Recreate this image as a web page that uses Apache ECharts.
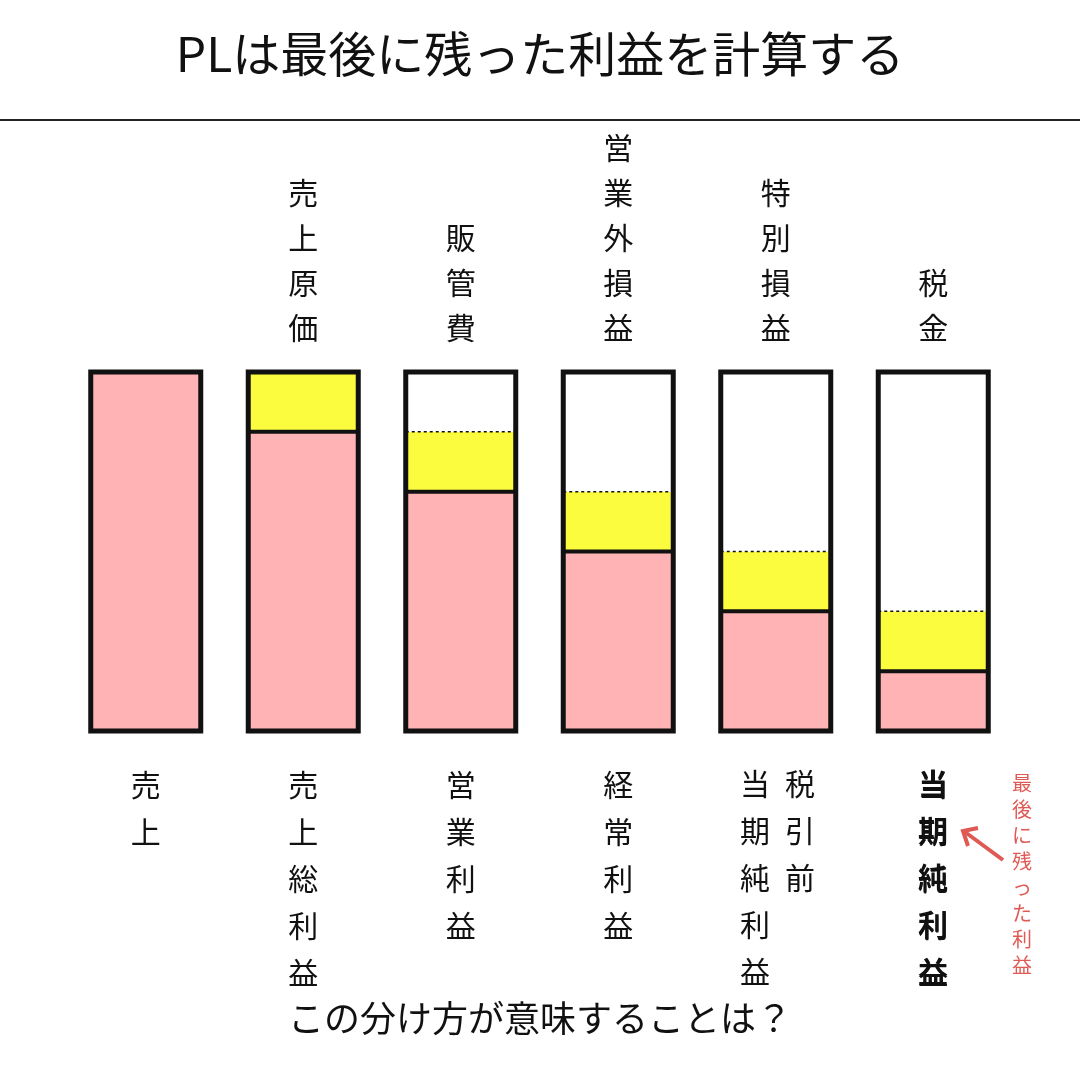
<!DOCTYPE html>
<html>
<head>
<meta charset="utf-8">
<script src="https://cdn.jsdelivr.net/npm/echarts@6/dist/echarts.min.js"></script>
<style>
html,body{margin:0;padding:0;background:#fff;}
#main{width:1080px;height:1080px;}
</style>
</head>
<body>
<div id="main"></div>
<script>
// data
var topLabels = ['', '売上原価', '販管費', '営業外損益', '特別損益', '税金'];
var bottomLabels = ['売上', '売上総利益', '営業利益', '経常利益', '', '当期純利益'];
var pinkVals = [6, 5, 4, 3, 2, 1];
var yellowVals = [0, 1, 1, 1, 1, 1];
var whiteVals = [0, 0, 1, 2, 3, 4];

var font = '"Noto Sans CJK JP", sans-serif';
var myChart = echarts.init(document.getElementById('main'));

function vert(s) { return s.split('').join('\n'); }

var seriesData = pinkVals.map(function (p, i) {
    return [i, p, yellowVals[i], whiteVals[i]];
});

var option = {
    animation: false,
    backgroundColor: '#fff',
    grid: { left: 67, right: 68, top: 372, height: 359 },
    xAxis: [
        {
            type: 'category', data: bottomLabels, position: 'bottom',
            axisLine: { show: false }, axisTick: { show: false },
            axisLabel: {
                margin: 30, fontFamily: font, fontSize: 30, lineHeight: 47, color: '#111',
                verticalAlign: 'top',
                formatter: function (v, i) { return vert(v); },
                rich: {}
            }
        },
        {
            type: 'category', data: topLabels, position: 'top',
            axisLine: { show: false }, axisTick: { show: false },
            axisLabel: {
                margin: 22, fontFamily: font, fontSize: 30, lineHeight: 45, color: '#111',
                formatter: function (v) { return vert(v); }
            }
        }
    ],
    yAxis: { type: 'value', min: 0, max: 6, show: false },
    series: [{
        type: 'custom',
        data: seriesData,
        renderItem: function (params, api) {
            var i = api.value(0), p = api.value(1), y = api.value(2), w = api.value(3);
            var bw = 110;
            var base = api.coord([i, 0]);
            var x0 = base[0] - bw / 2;
            var yP = api.coord([i, p])[1];
            var yY = api.coord([i, p + y])[1];
            var yT = api.coord([i, p + y + w])[1];
            var kids = [
                { type: 'rect', shape: { x: x0, y: yP, width: bw, height: base[1] - yP }, style: { fill: '#ffb3b5' } },
                { type: 'rect', shape: { x: x0, y: yY, width: bw, height: yP - yY }, style: { fill: '#fcfc3e' } },
                { type: 'rect', shape: { x: x0, y: yT, width: bw, height: yY - yT }, style: { fill: '#fff' } }
            ];
            if (y > 0) kids.push({ type: 'line', shape: { x1: x0, y1: yP, x2: x0 + bw, y2: yP }, style: { stroke: '#111', lineWidth: 4 } });
            if (w > 0 && y > 0) kids.push({ type: 'line', shape: { x1: x0, y1: yY, x2: x0 + bw, y2: yY }, style: { stroke: '#111', lineWidth: 1.5, lineDash: [3, 3] } });
            kids.push({ type: 'rect', shape: { x: x0, y: yT, width: bw, height: base[1] - yT }, style: { fill: 'none', stroke: '#111', lineWidth: 5 } });
            return { type: 'group', children: kids };
        }
    }],
    graphic: [
        { type: 'text', left: 'center', top: 30, style: { text: 'PLは最後に残った利益を計算する', font: '48px ' + font, fill: '#111' } },
        { type: 'line', shape: { x1: 0, y1: 120, x2: 1080, y2: 120 }, style: { stroke: '#222', lineWidth: 2 } },
        { type: 'text', x: 800, y: 760, style: { text: vert('税引前'), font: '30px ' + font, lineHeight: 47, fill: '#111', align: 'center' } },
        { type: 'text', x: 755, y: 760, style: { text: vert('当期純利益'), font: '30px ' + font, lineHeight: 47, fill: '#111', align: 'center' } },
        { type: 'rect', shape: { x: 895, y: 750, width: 80, height: 230 }, style: { fill: '#fff' } },
        { type: 'text', x: 933, y: 760, style: { text: vert('当期純利益'), font: 'bold 30px ' + font, lineHeight: 47, fill: '#111', align: 'center' } },
        { type: 'text', x: 1022, y: 770, style: { text: vert('最後に残った利益'), font: '20px ' + font, lineHeight: 26, fill: '#e05a55', align: 'center' } },
        { type: 'line', shape: { x1: 1003, y1: 860, x2: 965, y2: 832 }, style: { stroke: '#e05a55', lineWidth: 4 } },
        { type: 'polyline', shape: { points: [[978, 828], [963, 831], [968, 846]] }, style: { stroke: '#e05a55', lineWidth: 4, fill: 'none' } },
        { type: 'text', left: 'center', top: 1000, style: { text: 'この分け方が意味することは？', font: '36px ' + font, fill: '#111' } }
    ]
};
myChart.setOption(option);
</script>
</body>
</html>
